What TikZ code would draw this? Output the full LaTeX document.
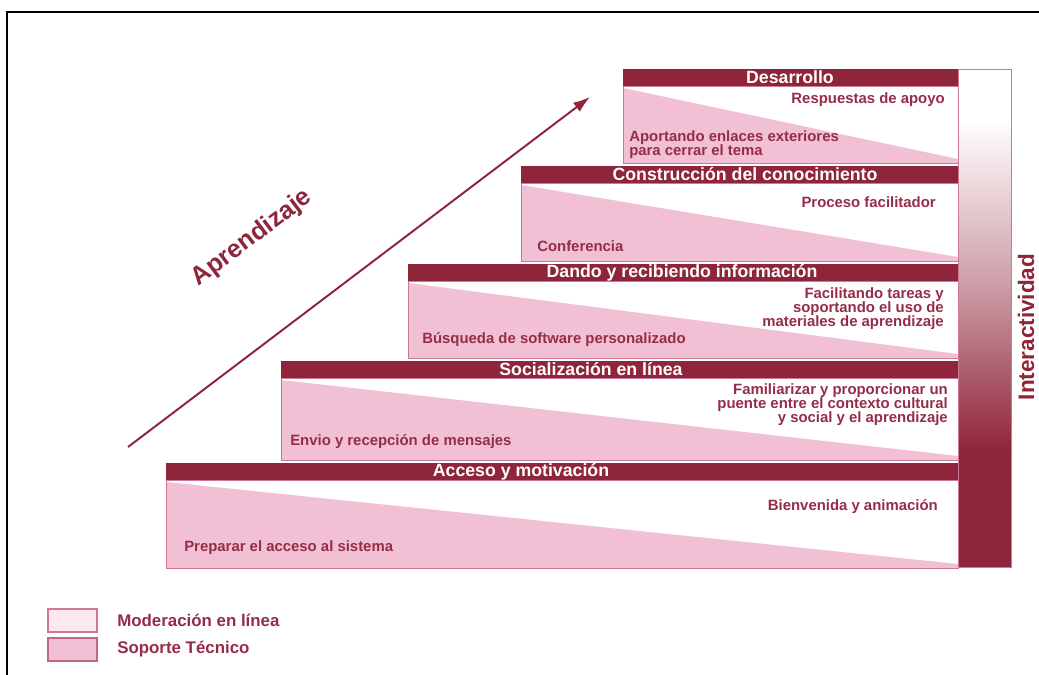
\documentclass[tikz,border=0pt]{standalone}
\usepackage{fontspec}
\setmainfont{Liberation Sans}
\usepackage{xcolor}
\usetikzlibrary{arrows.meta}
\definecolor{stepred}{RGB}{143,37,58}
\definecolor{textred}{RGB}{150,45,72}
\definecolor{soporte}{RGB}{242,192,212}
\definecolor{moderacion}{RGB}{251,232,240}
\definecolor{edgepink}{RGB}{205,120,150}
\tikzset{
  headtext/.style={text=white, font=\fontsize{12.6}{12.6}\selectfont\bfseries, inner sep=0pt},
  bodytext/.style={text=textred, font=\fontsize{10.6}{10}\selectfont\bfseries, inner sep=0pt},
  bodyline/.style={draw=edgepink, line width=0.6pt},
  legendtext/.style={text=textred, font=\fontsize{12}{12}\selectfont\bfseries, inner sep=0pt, anchor=west},
  growarrow/.style={draw=stepred, line width=1.4pt, -{Latex[length=12pt,width=8pt]}},
}
\begin{document}
\begin{tikzpicture}[x=0.025cm,y=-0.025cm]
  \useasboundingbox (0,0) rectangle (1039,675);
  \draw[line width=1.4pt] (7,675) -- (7,12) -- (1039,12);
  % steps
  \foreach \ty/\lx/\by/\title/\tx [count=\i] in {69/623/163/Desarrollo/790,
      166/521/261/Construcción del conocimiento/745,
      264/408/358/Dando y recibiendo información/682,
      361/281/460/Socialización en línea/591,
      463/166/568/Acceso y motivación/521} {
    \fill[white] (\lx,\ty+17) rectangle (958,\by);
    \fill[soporte] (\lx,\ty+19) -- (958,\by-4) -- (958,\by) -- (\lx,\by) -- cycle;
    \draw[bodyline] (\lx,\ty+17) rectangle (958,\by);
    \fill[stepred] (\lx,\ty) rectangle (958,\ty+17);
    \node[headtext] (head\i) at (\tx,\ty+8.5) {\title};
  }
  % interactividad
  \fill[white] (958,69) rectangle (1011,120);
  \shade[top color=white, bottom color=stepred, middle color=stepred!45] (958,120) rectangle (1011,450);
  \fill[stepred] (958,450) rectangle (1011,567);
  \draw[edgepink, line width=0.6pt] (958,69) rectangle (1011,567);
  \node[text=stepred, font=\fontsize{16}{16}\selectfont\bfseries, rotate=90] (inter) at (1026,327) {Interactividad};
  % body texts
  \node[bodytext, anchor=east] (r1) at (945,100) {Respuestas de apoyo};
  \node[bodytext, anchor=west, align=left] (l1) at (629,145) {Aportando enlaces exteriores\\para cerrar el tema};
  \node[bodytext, anchor=east] (r2) at (936,202) {Proceso facilitador};
  \node[bodytext, anchor=west] (l2) at (537,246) {Conferencia};
  \node[bodytext, anchor=east, align=right] (r3) at (944,309) {Facilitando tareas y\\soportando el uso de\\materiales de aprendizaje};
  \node[bodytext, anchor=west] (l3) at (422,340) {Búsqueda de software personalizado};
  \node[bodytext, anchor=east, align=right] (r4) at (948,405) {Familiarizar y proporcionar un\\puente entre el contexto cultural\\y social y el aprendizaje};
  \node[bodytext, anchor=west] (l4) at (290,442) {Envio y recepción de mensajes};
  \node[bodytext, anchor=east] (r5) at (938,507) {Bienvenida y animación};
  \node[bodytext, anchor=west] (l5) at (184,548) {Preparar el acceso al sistema};
  % aprendizaje
  \coordinate (arrowstart) at (128,447);
  \coordinate (arrowend) at (590,97);
  \draw[growarrow] (arrowstart) -- (arrowend);
  \node[text=stepred, font=\fontsize{18}{18}\selectfont\bfseries, rotate=37] (aprend) at (252,238) {Aprendizaje};
  % legend
  \filldraw[fill=moderacion, draw=edgepink, line width=1pt] (48,609) rectangle (97,632);
  \filldraw[fill=soporte, draw=edgepink!80!stepred, line width=1pt] (48,638) rectangle (97,661);
  \node[legendtext] (leg1) at (117,620) {Moderación en línea};
  \node[legendtext] (leg2) at (117,649) {Soporte Técnico};
\end{tikzpicture}
\end{document}
